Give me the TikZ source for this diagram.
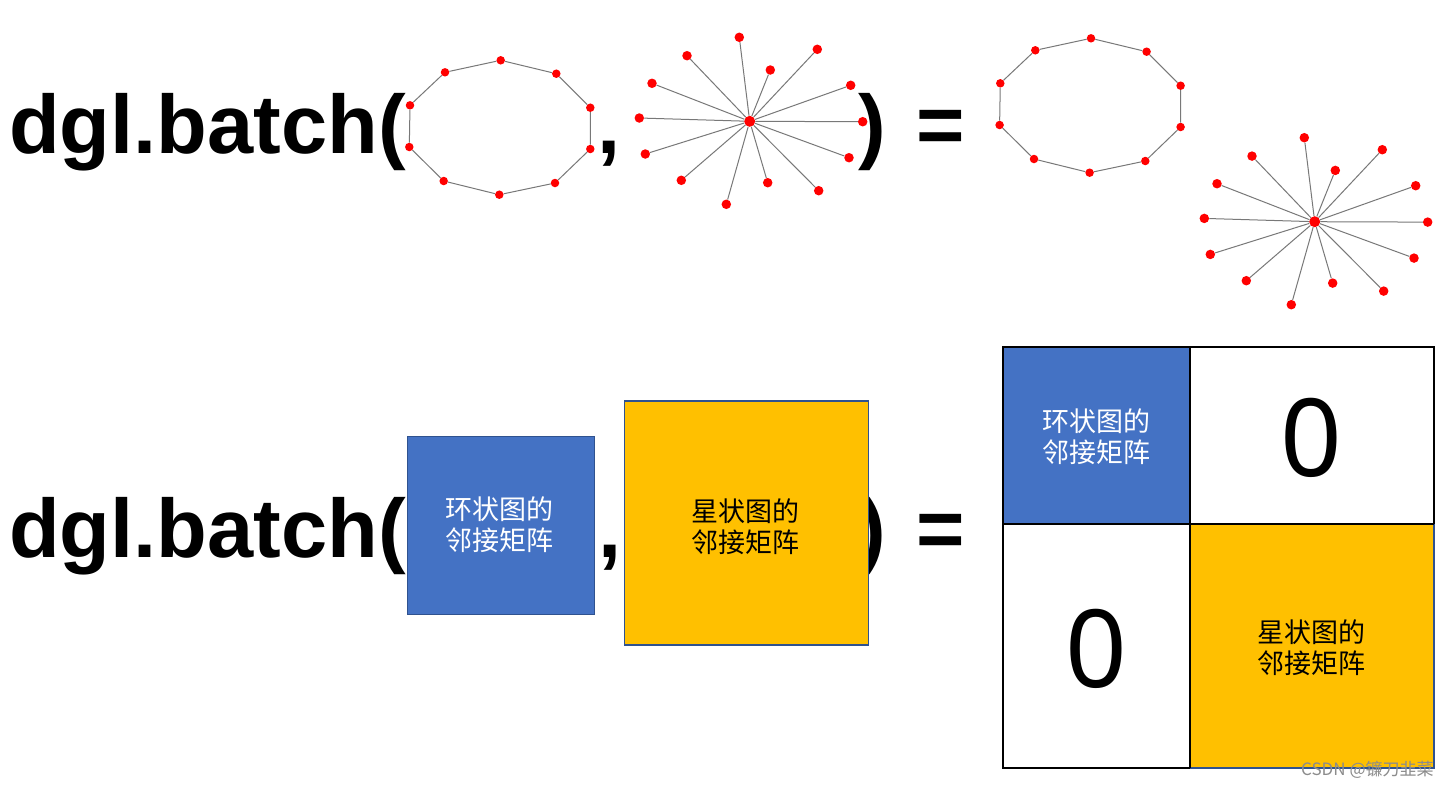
\documentclass[tikz,border=0pt]{standalone}
\usepackage{fontspec}
\setmainfont{Liberation Sans}
\newfontfamily\cjk{Noto Sans CJK SC}
\newfontfamily\zerofont{Noto Sans}
\definecolor{dotred}{RGB}{255,0,0}
\definecolor{edgegray}{RGB}{120,120,120}
\definecolor{boxblue}{RGB}{68,114,196}
\definecolor{boxborder}{RGB}{47,82,143}
\definecolor{boxyellow}{RGB}{255,192,0}
\definecolor{wmgray}{RGB}{140,140,140}
\begin{document}
\begin{tikzpicture}[x=1pt,y=-1pt,
  bigtext/.style={font=\fontsize{83}{98}\selectfont\bfseries, inner sep=0pt, anchor=base west},
  ringdot/.style={circle, fill=dotred, inner sep=0pt, minimum size=8.5pt},
  leafdot/.style={circle, fill=dotred, inner sep=0pt, minimum size=9.5pt},
  hubdot/.style={circle, fill=dotred, inner sep=0pt, minimum size=11pt},
  gedge/.style={draw=edgegray, line width=1pt},
  cjklabel/.style={font=\cjk\fontsize{27}{31}\selectfont, align=center, inner sep=0pt},
  zero/.style={font=\zerofont\fontsize{108}{120}\selectfont, inner sep=0pt},
  matbox/.style={draw=boxborder, line width=1.2pt, inner sep=0pt},
  matline/.style={draw=black, line width=2pt}]
\useasboundingbox[fill=white] (0,0) rectangle (1452,788);

% ---------- top row ----------
\node[bigtext] (t1) at (9,153) {dgl.batch(};
\node[bigtext] (c1) at (597,153) {,};
\node[bigtext] (p1) at (858,153) {)};
\node[bigtext] (e1) at (916,153) {=};

% ring graph (left)
\foreach \i/\x/\y in {1/500.7/60.3, 2/556.3/73.7, 3/590.3/107.7, 4/590.3/149, 5/555/183,
                      6/499.3/194.7, 7/443.7/181, 8/409.3/147, 9/410/105.3, 10/445/72.3}
  \node[ringdot] (ra\i) at (\x,\y) {};
\draw[gedge] (ra1)--(ra2)--(ra3)--(ra4)--(ra5)--(ra6)--(ra7)--(ra8)--(ra9)--(ra10)--(ra1);

% ring graph (right)
\begin{scope}[shift={(590.3,-22)}]
\foreach \i/\x/\y in {1/500.7/60.3, 2/556.3/73.7, 3/590.3/107.7, 4/590.3/149, 5/555/183,
                      6/499.3/194.7, 7/443.7/181, 8/409.3/147, 9/410/105.3, 10/445/72.3}
  \node[ringdot] (rb\i) at (\x,\y) {};
\draw[gedge] (rb1)--(rb2)--(rb3)--(rb4)--(rb5)--(rb6)--(rb7)--(rb8)--(rb9)--(rb10)--(rb1);
\end{scope}

% star graph (left)
\begin{scope}[shift={(749.7,121.3)}]
\node[hubdot] (sa0) at (0,0) {};
\foreach \i/\x/\y in {1/-10.4/-84, 2/67.6/-72, 3/20.6/-51.3, 4/101/-36, 5/113/0.4, 6/99.3/36.4,
                      7/69/69.4, 8/18/61.4, 9/-23.4/83, 10/-68.4/59, 11/-104.4/32.7,
                      12/-110.4/-3.3, 13/-97.7/-38, 14/-62.7/-65.6}
  {\node[leafdot] (sa\i) at (\x,\y) {}; \draw[gedge] (sa0) -- (sa\i);}
\end{scope}

% star graph (right)
\begin{scope}[shift={(1314.7,221.7)}]
\node[hubdot] (sb0) at (0,0) {};
\foreach \i/\x/\y in {1/-10.4/-84, 2/67.6/-72, 3/20.6/-51.3, 4/101/-36, 5/113/0.4, 6/99.3/36.4,
                      7/69/69.4, 8/18/61.4, 9/-23.4/83, 10/-68.4/59, 11/-104.4/32.7,
                      12/-110.4/-3.3, 13/-97.7/-38, 14/-62.7/-65.6}
  {\node[leafdot] (sb\i) at (\x,\y) {}; \draw[gedge] (sb0) -- (sb\i);}
\end{scope}

% ---------- bottom row ----------
\node[bigtext] (t2) at (9,557) {dgl.batch(};
\node[bigtext] (c2) at (598,557) {,};
\node[bigtext] (p2) at (858,557) {)};
\node[bigtext] (e2) at (916,557) {=};

\node[matbox, fill=boxblue, minimum width=187pt, minimum height=178pt] (bb) at (500.8,525.8) {};
\node[cjklabel, text=white] (bbt) at (499.5,525) {环状图的\\邻接矩阵};
\node[matbox, fill=boxyellow, minimum width=244pt, minimum height=244pt] (yb) at (746.2,523) {};
\node[cjklabel, text=black] (ybt) at (745,527) {星状图的\\邻接矩阵};

% block matrix
\fill[boxblue] (1003,347) rectangle (1190,524);
\filldraw[fill=boxyellow, draw=boxborder, line width=1.5pt] (1190,524) rectangle (1434,768);
\draw[matline] (1190,768) -- (1003,768) -- (1003,347) -- (1434,347) -- (1434,524);
\draw[matline] (1190,347) -- (1190,768);
\draw[matline] (1003,524) -- (1434,524);
\node[cjklabel, text=white] (mtl) at (1096,436.5) {环状图的\\邻接矩阵};
\node[zero] (mtr) at (1311,438) {0};
\node[zero] (mbl) at (1096.7,649) {0};
\node[cjklabel, text=black] (mbr) at (1311,647.5) {星状图的\\邻接矩阵};

% watermark
\node[font=\cjk\fontsize{17}{20}\selectfont, text=wmgray, inner sep=0pt, anchor=west] (wm) at (1301,770) {CSDN @镰刀韭菜};
\end{tikzpicture}
\end{document}
